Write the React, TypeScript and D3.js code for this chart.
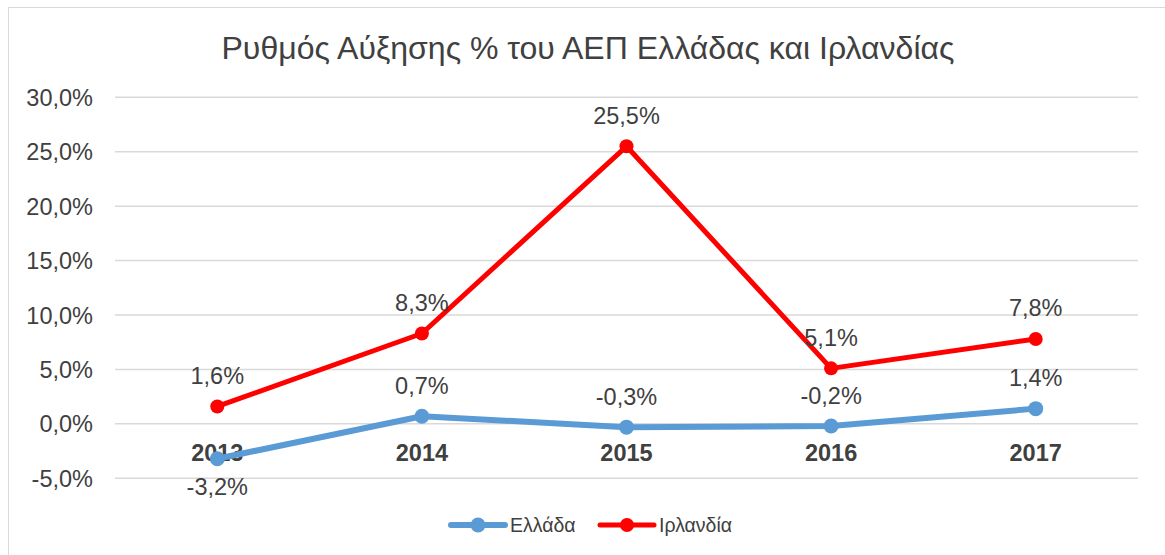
import React from "react";
import * as d3 from "d3";

const categories = ["2013", "2014", "2015", "2016", "2017"];
const greece = [-3.2, 0.7, -0.3, -0.2, 1.4];
const ireland = [1.6, 8.3, 25.5, 5.1, 7.8];
const yTicks = [-5, 0, 5, 10, 15, 20, 25, 30];
const seriesNames = ["Ελλάδα", "Ιρλανδία"];
const title = "Ρυθμός Αύξησης % του ΑΕΠ Ελλάδας και Ιρλανδίας";

const W = 1165;
const H = 555;
const FONT = "'Liberation Sans', Arial, sans-serif";
const FS = 23.5;

const fmt = (v: number) => v.toFixed(1).replace(".", ",") + "%";

export default function App() {
  const x = d3.scaleBand().domain(categories).range([115, 1138]);
  const y = d3.scaleLinear().domain([-5, 30]).range([478.3, 97.3]);
  const cx = (c: string) => (x(c) as number) + x.bandwidth() / 2;
  const line = d3
    .line<number>()
    .x((_, i) => cx(categories[i]))
    .y((d) => y(d));

  const series = [
    { name: seriesNames[0], values: greece, color: "#5B9BD5", width: 6, r: 7.5, labelBelowFirst: true },
    { name: seriesNames[1], values: ireland, color: "#FF0000", width: 5, r: 7, labelBelowFirst: false },
  ];

  return (
    <svg width={W} height={H} style={{ display: "block", position: "absolute", left: 0, top: 0 }}>
      <rect x={0} y={0} width={W} height={H} fill="#fff" />
      <rect x={8.5} y={7.5} width={1160} height={560} fill="#fff" stroke="#d9d9d9" strokeWidth={1} />
      <text
        x={588}
        y={59}
        textAnchor="middle"
        fontFamily={FONT}
        fontSize={31}
        fill="#404040"
        textLength={733}
        lengthAdjust="spacingAndGlyphs"
      >
        {title}
      </text>
      {yTicks.map((t) => (
        <g key={t}>
          <line x1={115} x2={1138} y1={y(t)} y2={y(t)} stroke="#d9d9d9" strokeWidth={1.5} />
          <text x={93} y={y(t) + 8.5} textAnchor="end" fontFamily={FONT} fontSize={FS} fill="#404040">
            {fmt(t)}
          </text>
        </g>
      ))}
      {categories.map((c) => (
        <text key={c} x={cx(c)} y={y(0) + 37} textAnchor="middle" fontFamily={FONT} fontSize={FS} fontWeight="bold" fill="#404040">
          {c}
        </text>
      ))}
      {series.map((s) => (
        <g key={s.name}>
          <path d={line(s.values) || ""} fill="none" stroke={s.color} strokeWidth={s.width} strokeLinejoin="round" strokeLinecap="round" />
          {s.values.map((v, i) => (
            <circle key={i} cx={cx(categories[i])} cy={y(v)} r={s.r} fill={s.color} />
          ))}
          {s.values.map((v, i) => {
            const below = s.labelBelowFirst && i === 0;
            return (
              <text
                key={"l" + i}
                x={cx(categories[i])}
                y={below ? y(v) + 36 : y(v) - 22.5}
                textAnchor="middle"
                fontFamily={FONT}
                fontSize={FS}
                fill="#404040"
              >
                {fmt(v)}
              </text>
            );
          })}
        </g>
      ))}
      {series.map((s, i) => {
        const lx = 451 + i * 149;
        return (
          <g key={"lg" + s.name}>
            <line x1={lx} x2={lx + 54} y1={525} y2={525} stroke={s.color} strokeWidth={s.width} strokeLinecap="round" />
            <circle cx={lx + 27} cy={525} r={s.r} fill={s.color} />
            <text x={lx + 59} y={532} fontFamily={FONT} fontSize={19.5} fill="#404040">
              {s.name}
            </text>
          </g>
        );
      })}
    </svg>
  );
}
